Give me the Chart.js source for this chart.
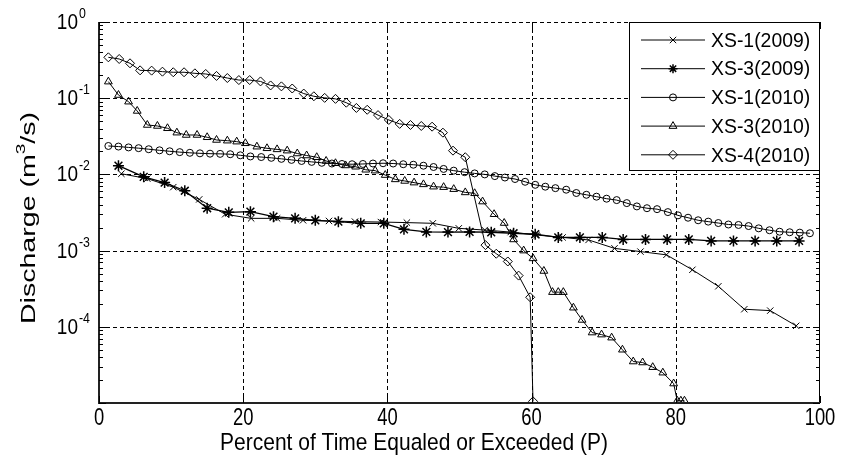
<!DOCTYPE html>
<html>
<head>
<meta charset="utf-8">
<title>Flow duration curves</title>
<script src="https://cdn.jsdelivr.net/npm/chart.js@4.4.1/dist/chart.umd.min.js"></script>
<style>
  html, body { margin: 0; padding: 0; background: #fff; }
  #wrap { width: 842px; height: 474px; }
</style>
</head>
<body>
<div id="wrap"><canvas id="myChart" width="842" height="474"></canvas></div>
<script>
// percent of time equaled or exceeded (P) and discharge (m3/s) per cross-section
const xs1_2009_P = [3.1, 6.7, 10.3, 13.9, 17.5, 21.1, 24.7, 28.3, 31.9, 35.5, 39.1, 42.7, 46.3, 49.9, 53.5, 57.1, 60.7, 64.3, 67.9, 71.5, 75.1, 78.7, 82.3, 85.9, 89.5, 93.1, 96.7];
const xs1_2009_Q = [0.0102, 0.0088, 0.0068, 0.0047, 0.0030, 0.00265, 0.00265, 0.0025, 0.00245, 0.0024, 0.00237, 0.00233, 0.00228, 0.00196, 0.00186, 0.00175, 0.0016, 0.00149, 0.00138, 0.00107, 0.00097, 0.00088, 0.00056, 0.00034, 0.00017, 0.000163, 0.000103];

const xs3_2009_P = [2.7, 6.2, 9.1, 11.9, 15.0, 18.0, 21.0, 24.2, 27.2, 30.0, 33.2, 36.3, 39.5, 42.3, 45.4, 48.4, 51.4, 54.4, 57.5, 60.5, 63.7, 66.7, 69.8, 72.7, 75.8, 78.8, 81.8, 84.9, 88.0, 91.0, 94.0, 97.1];
const xs3_2009_Q = [0.0130, 0.0093, 0.0078, 0.0061, 0.0036, 0.00318, 0.00324, 0.00279, 0.00265, 0.0025, 0.0024, 0.00228, 0.00228, 0.0019, 0.00176, 0.00175, 0.00176, 0.00174, 0.00169, 0.00164, 0.00149, 0.00149, 0.00149, 0.0014, 0.0014, 0.0014, 0.0014, 0.00134, 0.00134, 0.00134, 0.00134, 0.00134];

const xs1_2010_P = [1.3, 2.7, 4.1, 5.5, 6.9, 8.4, 9.8, 11.2, 12.6, 14.0, 15.4, 16.8, 18.2, 19.6, 21.0, 22.5, 23.9, 25.3, 26.7, 28.1, 29.5, 30.9, 32.3, 33.7, 35.1, 36.6, 38.0, 39.4, 40.8, 42.2, 43.6, 45.0, 46.4, 47.8, 49.2, 50.7, 52.1, 53.5, 54.9, 56.3, 57.7, 59.1, 60.5, 61.9, 63.3, 64.8, 66.2, 67.6, 69.0, 70.4, 71.8, 73.2, 74.6, 76.0, 77.4, 78.9, 80.3, 81.7, 83.1, 84.5, 85.9, 87.3, 88.7, 90.1, 91.5, 93.0, 94.4, 95.8, 97.2, 98.6];
const xs1_2010_Q = [0.0236, 0.0232, 0.0226, 0.0221, 0.0214, 0.0207, 0.0201, 0.0196, 0.0192, 0.0189, 0.0187, 0.0186, 0.0184, 0.0178, 0.0172, 0.0169, 0.0165, 0.0160, 0.0155, 0.0150, 0.0146, 0.0142, 0.0139, 0.0137, 0.0136, 0.0137, 0.0139, 0.0140, 0.0139, 0.0136, 0.0134, 0.0130, 0.0125, 0.0118, 0.0112, 0.0107, 0.0103, 0.0100, 0.0095, 0.0091, 0.0087, 0.0080, 0.0073, 0.0069, 0.0066, 0.0063, 0.0057, 0.0054, 0.0051, 0.0048, 0.0046, 0.0042, 0.0038, 0.0036, 0.0035, 0.0032, 0.0029, 0.0027, 0.0025, 0.0024, 0.0023, 0.0022, 0.00217, 0.0021, 0.00196, 0.00185, 0.00177, 0.00174, 0.00172, 0.00169];

const xs3_2010_P = [1.3, 2.7, 4.1, 5.3, 6.7, 8.1, 9.5, 10.8, 12.1, 13.6, 15.0, 16.3, 17.8, 19.1, 20.3, 21.9, 23.3, 24.7, 26.1, 27.5, 28.8, 30.2, 31.5, 32.8, 34.2, 35.6, 37.0, 38.3, 39.7, 41.1, 42.4, 43.7, 45.0, 46.4, 47.8, 49.2, 50.8, 52.1, 53.2, 54.8, 56.2, 57.5, 58.9, 60.2, 61.7, 62.9, 63.7, 64.4, 65.8, 67.0, 68.4, 69.7, 71.1, 72.6, 74.1, 75.4, 76.8, 78.2, 79.7, 80.2, 80.7, 81.2];
const xs3_2010_Q = [0.165, 0.110, 0.090, 0.068, 0.0445, 0.0432, 0.0403, 0.0353, 0.0329, 0.0329, 0.0307, 0.0283, 0.0277, 0.0269, 0.0256, 0.0231, 0.0220, 0.0213, 0.0205, 0.0188, 0.0177, 0.0168, 0.0150, 0.0140, 0.0131, 0.0126, 0.0115, 0.0112, 0.0098, 0.0086, 0.0082, 0.0078, 0.0074, 0.0069, 0.0068, 0.0064, 0.0058, 0.00565, 0.0044, 0.0030, 0.0023, 0.0014, 0.0010, 0.00079, 0.00054, 0.000285, 0.000285, 0.000285, 0.000178, 0.000123, 0.000084, 0.000079, 0.000072, 0.000050, 0.000035, 0.000034, 0.0000295, 0.000025, 0.000018, 0.0000107, 0.0000107, 0.0000107];

const xs4_2010_P = [1.3, 2.8, 4.3, 5.7, 7.3, 8.8, 10.3, 11.8, 13.3, 14.8, 16.3, 17.8, 19.4, 20.9, 22.4, 23.8, 25.3, 26.8, 28.4, 29.8, 31.3, 32.8, 34.3, 35.7, 37.2, 38.7, 40.2, 41.7, 43.2, 44.7, 46.2, 47.7, 49.1, 50.8, 53.6, 55.1, 56.7, 58.2, 59.8, 60.2];
const xs4_2010_Q = [0.344, 0.327, 0.287, 0.232, 0.23, 0.223, 0.219, 0.219, 0.212, 0.208, 0.196, 0.184, 0.173, 0.173, 0.166, 0.147, 0.143, 0.134, 0.115, 0.106, 0.101, 0.098, 0.0873, 0.0745, 0.0705, 0.060, 0.0518, 0.046, 0.0445, 0.0432, 0.0423, 0.0353, 0.0205, 0.0168, 0.00118, 0.00091, 0.00072, 0.00047, 0.000244, 0.0000105];

const seriesNames = ['XS-1(2009)', 'XS-3(2009)', 'XS-1(2010)', 'XS-3(2010)', 'XS-4(2010)'];
const xTicks = [0, 20, 40, 60, 80, 100];
const yDecades = [-5, -4, -3, -2, -1, 0];
const yLabelDecades = [-4, -3, -2, -1, 0];

const FONT = '"Liberation Sans", Arial, Helvetica, sans-serif';

function toPoints(px, qy) {
    let pts = [];
    for (let i = 0; i < px.length; i++) pts.push({x: px[i], y: qy[i]});
    return pts;
}

function makeSet(label, px, qy, style, radius, lw) {
    return {
        label: label,
        data: toPoints(px, qy),
        borderColor: '#000',
        backgroundColor: 'rgba(0,0,0,0)',
        borderWidth: lw,
        pointStyle: style,
        pointRadius: radius,
        pointBorderWidth: 1,
        pointBorderColor: '#000',
        pointBackgroundColor: 'rgba(0,0,0,0)',
        tension: 0,
        clip: 0
    };
}

const datasets = [
    makeSet(seriesNames[0], xs1_2009_P, xs1_2009_Q, 'crossRot', 4.5, 1),
    makeSet(seriesNames[1], xs3_2009_P, xs3_2009_Q, 'star', 5.5, 1.3),
    makeSet(seriesNames[2], xs1_2010_P, xs1_2010_Q, 'circle', 3.5, 1),
    makeSet(seriesNames[3], xs3_2010_P, xs3_2010_Q, 'triangle', 4.5, 1),
    makeSet(seriesNames[4], xs4_2010_P, xs4_2010_Q, 'rectRot', 4.5, 1)
];
datasets[1].pointBorderWidth = 1.5;

// text drawn straight onto the canvas; sx/sy stretch it in screen space
function putText(ctx, str, x, y, size, align, baseline, sx, sy, rot) {
    ctx.save();
    ctx.translate(x, y);
    ctx.scale(sx, sy);
    if (rot) ctx.rotate(rot);
    ctx.font = size + 'px ' + FONT;
    ctx.textAlign = align;
    ctx.textBaseline = baseline;
    ctx.fillStyle = '#000';
    ctx.fillText(str, 0, 0);
    ctx.restore();
}

const grid = {
    id: 'dashGrid',
    beforeDatasetsDraw(chart) {
        const ctx = chart.ctx;
        const a = chart.chartArea;
        const xs = chart.scales.x, ys = chart.scales.y;
        ctx.save();
        ctx.strokeStyle = '#000';
        ctx.lineWidth = 1;
        ctx.setLineDash([4, 3]);
        ctx.beginPath();
        xTicks.forEach(function(t) {
            if (t === 0 || t === 100) return;
            const px = Math.round(xs.getPixelForValue(t)) + 0.5;
            ctx.moveTo(px, a.top); ctx.lineTo(px, a.bottom);
        });
        yDecades.forEach(function(d) {
            if (d === -5) return;
            const py = Math.round(ys.getPixelForValue(Math.pow(10, d))) + 0.5;
            ctx.moveTo(a.left, py); ctx.lineTo(a.right, py);
        });
        ctx.stroke();
        ctx.restore();
    }
};

const frame = {
    id: 'frame',
    afterDatasetsDraw(chart) {
        const ctx = chart.ctx;
        const a = chart.chartArea;
        const xs = chart.scales.x, ys = chart.scales.y;

        // box
        ctx.save();
        ctx.strokeStyle = '#000';
        ctx.lineWidth = 1;
        ctx.beginPath();
        ctx.moveTo(a.right - 0.5, a.top);
        ctx.lineTo(a.right - 0.5, a.bottom);
        ctx.stroke();
        ctx.lineWidth = 2;
        ctx.strokeStyle = '#222';
        ctx.beginPath();
        ctx.moveTo(a.left, a.top);
        ctx.lineTo(a.left, a.bottom);
        ctx.lineTo(a.right, a.bottom);
        ctx.stroke();

        // log minor ticks on both sides
        ctx.lineWidth = 1;
        ctx.strokeStyle = '#000';
        ctx.beginPath();
        yDecades.forEach(function(d) {
            for (let m = 1; m < 10; m++) {
                const v = m * Math.pow(10, d);
                if (v > 1) continue;
                const py = Math.round(ys.getPixelForValue(v)) + 0.5;
                const len = m === 1 ? 7 : 4;
                ctx.moveTo(a.left, py); ctx.lineTo(a.left + len, py);
                ctx.moveTo(a.right, py); ctx.lineTo(a.right - len, py);
            }
        });
        xTicks.forEach(function(t) {
            const px = Math.round(xs.getPixelForValue(t)) + 0.5;
            ctx.moveTo(px, a.bottom); ctx.lineTo(px, a.bottom - 7);
            ctx.moveTo(px, a.top); ctx.lineTo(px, a.top + 7);
        });
        ctx.stroke();
        ctx.restore();

        // tick labels
        xTicks.forEach(function(t) {
            putText(ctx, String(t), xs.getPixelForValue(t), a.bottom + 16, 20, 'center', 'middle', 0.92, 1.15);
        });
        yLabelDecades.forEach(function(d) {
            const py = ys.getPixelForValue(Math.pow(10, d));
            putText(ctx, '10', 78, py + 1, 20, 'right', 'middle', 0.95, 1.1);
            putText(ctx, String(d), 79, py - 8, 13, 'left', 'middle', 0.95, 1.1);
        });

        // axis titles
        putText(ctx, 'Percent of Time Equaled or Exceeded (P)', 414, a.bottom + 40, 21, 'center', 'middle', 1.0, 1.15);

        ctx.save();
        ctx.translate(29, 218);
        ctx.scale(0.95, 1.36);
        ctx.rotate(-Math.PI / 2);
        ctx.fillStyle = '#000';
        ctx.textBaseline = 'middle';
        ctx.font = '21px ' + FONT;
        const p1 = 'Discharge (m', p2 = '3', p3 = '/s)';
        const w1 = ctx.measureText(p1).width;
        ctx.font = '14px ' + FONT;
        const w2 = ctx.measureText(p2).width;
        ctx.font = '21px ' + FONT;
        const w3 = ctx.measureText(p3).width;
        const sx = -(w1 + w2 + w3) / 2;
        ctx.textAlign = 'left';
        ctx.fillText(p1, sx, 0);
        ctx.font = '14px ' + FONT;
        ctx.fillText(p2, sx + w1, -8);
        ctx.font = '21px ' + FONT;
        ctx.fillText(p3, sx + w1 + w2, 0);
        ctx.restore();

        // legend box in the upper right corner
        const lx = a.right - 191, ly = a.top, lw = 191, lh = 149;
        ctx.save();
        ctx.fillStyle = '#fff';
        ctx.fillRect(lx, ly, lw, lh);
        ctx.strokeStyle = '#000';
        ctx.lineWidth = 1;
        ctx.strokeRect(lx + 0.5, ly + 0.5, lw - 1, lh - 1);
        chart.data.datasets.forEach(function(ds, i) {
            const ey = ly + 18 + i * 28.7;
            ctx.strokeStyle = '#000';
            ctx.lineWidth = 1;
            ctx.beginPath();
            ctx.moveTo(lx + 12, ey);
            ctx.lineTo(lx + 76, ey);
            ctx.stroke();
            ctx.fillStyle = 'rgba(0,0,0,0)';
            ctx.lineWidth = ds.pointBorderWidth;
            Chart.helpers.drawPoint(ctx, {
                pointStyle: ds.pointStyle,
                radius: Math.min(ds.pointRadius, 4.5),
                borderWidth: ds.pointBorderWidth,
                rotation: 0
            }, lx + 44, ey);
            putText(ctx, ds.label, lx + 82, ey + 1, 20, 'left', 'middle', 0.97, 1.05);
        });
        ctx.restore();
    }
};

const canvas = document.getElementById('myChart');
const myChart = new Chart(canvas, {
    type: 'line',
    data: { datasets: datasets },
    options: {
        responsive: false,
        animation: false,
        devicePixelRatio: 1,
        layout: { padding: { left: 99, right: 22, top: 22, bottom: 71 } },
        plugins: { legend: { display: false }, tooltip: { enabled: false } },
        scales: {
            x: {
                type: 'linear',
                min: 0,
                max: 100,
                ticks: { display: false, stepSize: 20 },
                grid: { display: false, drawTicks: false },
                border: { display: false }
            },
            y: {
                type: 'logarithmic',
                min: 1e-5,
                max: 1,
                ticks: { display: false },
                grid: { display: false, drawTicks: false },
                border: { display: false }
            }
        }
    },
    plugins: [grid, frame]
});
</script>
</body>
</html>
